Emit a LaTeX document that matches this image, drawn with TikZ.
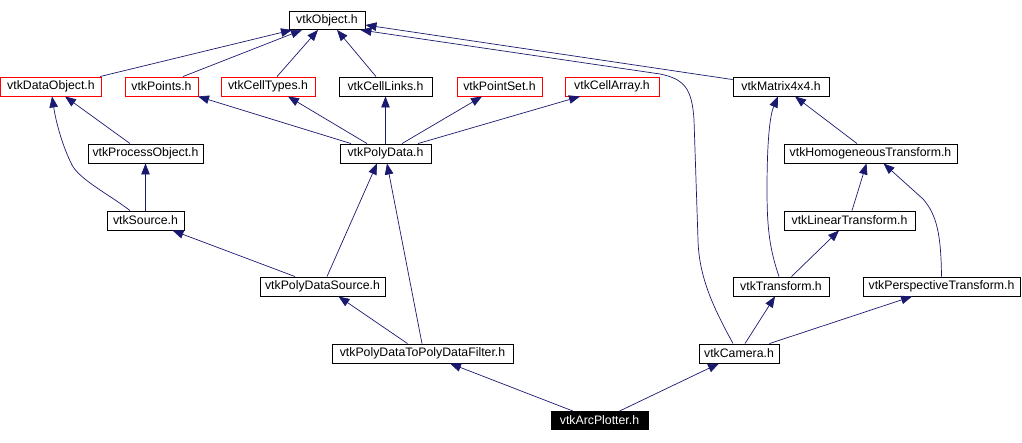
\documentclass[tikz,border=0pt]{standalone}
\usepackage{fontspec}
\setmainfont{Liberation Sans}
\usetikzlibrary{arrows.meta}
\definecolor{edgeblue}{RGB}{25,25,112}
\definecolor{missred}{RGB}{255,0,0}

\begin{document}
\begin{tikzpicture}[
    x=1pt, y=-1pt,
    hdr/.style={draw=black, line width=0.9pt, rectangle, minimum height=19pt,
                inner sep=0pt, font=\fontsize{12.3}{14}\selectfont, fill=white},
    missing/.style={hdr, draw=missred},
    focus/.style={hdr, fill=black, text=white, minimum height=18pt},
    incl/.style={-{Triangle[length=11pt, width=8.5pt]}, draw=edgeblue, line width=0.7pt}
  ]
  \useasboundingbox (0,0) rectangle (1022,442);
  % Row 1
  \node[hdr, minimum width=76pt, minimum height=18pt] (obj) at (327,20.5) {vtkObject.h};
  % Row 2
  \node[missing, minimum width=101pt] (dobj) at (51,86.5) {vtkDataObject.h};
  \node[missing, minimum width=73pt] (pts) at (161.5,86.5) {vtkPoints.h};
  \node[missing, minimum width=94pt] (ctypes) at (268,86.5) {vtkCellTypes.h};
  \node[hdr, minimum width=93pt] (clinks) at (385.5,86.5) {vtkCellLinks.h};
  \node[missing, minimum width=85pt] (pset) at (499.5,86.5) {vtkPointSet.h};
  \node[missing, minimum width=94pt] (carr) at (612,86.5) {vtkCellArray.h};
  \node[hdr, minimum width=96pt] (mat) at (781,86.5) {vtkMatrix4x4.h};
  % Row 3
  \node[hdr, minimum width=115pt] (pobj) at (145.5,153.5) {vtkProcessObject.h};
  \node[hdr, minimum width=91pt] (pd) at (385.5,153.5) {vtkPolyData.h};
  \node[hdr, minimum width=173pt] (homo) at (870.5,153.5) {vtkHomogeneousTransform.h};
  % Row 4
  \node[hdr, minimum width=77pt] (src) at (145.5,220.5) {vtkSource.h};
  \node[hdr, minimum width=131pt] (lin) at (849.5,220.5) {vtkLinearTransform.h};
  % Row 5
  \node[hdr, minimum width=125pt] (pds) at (322.5,286.5) {vtkPolyDataSource.h};
  \node[hdr, minimum width=96pt] (tr) at (781,286.5) {vtkTransform.h};
  \node[hdr, minimum width=157pt] (persp) at (941.5,286.5) {vtkPerspectiveTransform.h};
  % Row 6
  \node[hdr, minimum width=181pt] (pdtpdf) at (422.5,353.5) {vtkPolyDataToPolyDataFilter.h};
  \node[hdr, minimum width=80pt] (cam) at (739,353.5) {vtkCamera.h};
  % Row 7
  \node[focus, minimum width=97pt] (arc) at (599.5,420.5) {vtkArcPlotter.h};
  % Includes of vtkObject.h
  \draw[incl] ([xshift=49pt]dobj.north) -- ([xshift=-35pt]obj.south);
  \draw[incl] ([xshift=21.5pt]pts.north) -- ([xshift=-25pt]obj.south);
  \draw[incl] ([xshift=9pt]ctypes.north) -- ([xshift=-9pt]obj.south);
  \draw[incl] ([xshift=-9.5pt]clinks.north) -- ([xshift=10pt]obj.south);
  \draw[incl] ([yshift=-3pt]mat.north west) -- ([yshift=-4.5pt]obj.east);
  \draw[incl] ([xshift=-6pt]cam.north) .. controls (716,312) and (699,280) .. (698,240)
    -- (694,120) .. controls (692,88) and (684,79) .. (660,74) -- ([xshift=-5pt]obj.south east);
  % Left branch
  \draw[incl] ([xshift=-15.5pt]pobj.north) -- ([xshift=14pt]dobj.south);
  \draw[incl] ([xshift=-15.5pt]src.north) .. controls (110,195) and (80,180) .. (72,165)
    .. controls (62,145) and (56,122) .. ([xshift=1pt]dobj.south);
  \draw[incl] (src) -- (pobj);
  % vtkPolyData.h
  \draw[incl] ([xshift=-34.5pt]pd.north) -- ([xshift=36.5pt]pts.south);
  \draw[incl] ([xshift=-18.5pt]pd.north) -- ([xshift=20pt]ctypes.south);
  \draw[incl] (pd) -- (clinks);
  \draw[incl] ([xshift=16.5pt]pd.north) -- ([xshift=-17.5pt]pset.south);
  \draw[incl] ([xshift=32.5pt]pd.north) -- ([xshift=-32pt]carr.south);
  % Sources and filters
  \draw[incl] ([xshift=-27.5pt]pds.north) -- ([xshift=27pt]src.south);
  \draw[incl] ([xshift=4.5pt]pds.north) -- ([xshift=-8.5pt]pd.south);
  \draw[incl] ([xshift=-15pt]pdtpdf.north) -- ([xshift=16pt]pds.south);
  \draw[incl] ([xshift=-0.5pt]pdtpdf.north) -- ([xshift=1.5pt]pd.south);
  \draw[incl] ([xshift=-26.5pt]arc.north) -- ([xshift=27.5pt]pdtpdf.south);
  \draw[incl] ([xshift=20pt]arc.north) -- ([xshift=-20pt]cam.south);
  % Transforms
  \draw[incl] ([xshift=6pt]cam.north) -- ([xshift=-6pt]tr.south);
  \draw[incl] ([xshift=30.5pt]cam.north) -- ([xshift=-29.5pt]persp.south);
  \draw[incl] ([xshift=-2pt]tr.north) .. controls (770,250) and (767,230) .. (767,190)
    .. controls (767,140) and (770,115) .. ([xshift=-3pt]mat.south);
  \draw[incl] ([xshift=10.5pt]tr.north) -- ([xshift=-10.5pt]lin.south);
  \draw[incl] ([xshift=2.5pt]lin.north) -- ([xshift=-4pt]homo.south);
  \draw[incl] ([xshift=-13.5pt]homo.north) -- ([xshift=14pt]mat.south);
  \draw[incl] (persp.north) .. controls (941,235) and (937,215) .. (923,199)
    -- ([xshift=13pt]homo.south);
\end{tikzpicture}
\end{document}
